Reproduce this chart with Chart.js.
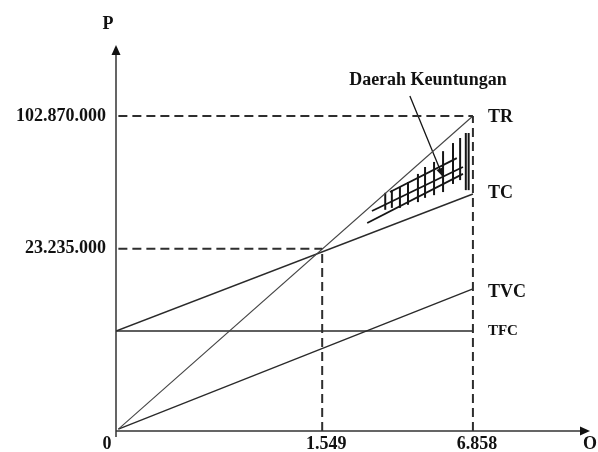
<!DOCTYPE html>
<html>
<head>
<meta charset="utf-8">
<script src="https://cdn.jsdelivr.net/npm/chart.js@4/dist/chart.umd.min.js"></script>
<style>
    html, body { margin: 0; padding: 0; background: #ffffff; }
    #wrap { width: 598px; height: 452px; }
</style>
</head>
<body>
<div id="wrap"><canvas id="bepChart" width="598" height="452"></canvas></div>
<script>
// schematic diagram (not to scale): both axes run 0..10
const qLabels = ['0', '1.549', '6.858'];
const qPos = [0, 4.35, 7.53];
const pLabels = ['23.235.000', '102.870.000'];
const pPos = [4.72, 8.16];

const lineNames = ['TR', 'TC', 'TVC', 'TFC'];
const lineStartX = [0.05, 0, 0.05, 0];
const lineStartY = [0.05, 2.59, 0.05, 2.59];
const lineEndX = [7.53, 7.53, 7.53, 7.53];
const lineEndY = [8.16, 6.14, 3.68, 2.59];

// hatched profit area
const hatchX = [5.68, 5.82, 5.99, 6.16, 6.37, 6.52, 6.71, 6.90, 7.11, 7.26, 7.38, 7.44];
const hatchTop = [6.17, 6.24, 6.32, 6.45, 6.66, 6.84, 6.97, 7.25, 7.46, 7.59, 7.72, 7.72];
const hatchBottom = [5.73, 5.78, 5.78, 5.86, 5.93, 6.04, 6.11, 6.19, 6.40, 6.50, 6.24, 6.24];
const slantX1 = [5.78, 5.40, 5.30];
const slantY1 = [6.19, 5.70, 5.39];
const slantX2 = [7.19, 7.32, 7.32];
const slantY2 = [7.07, 6.84, 6.66];

const profitLabel = 'Daerah Keuntungan';
const profitLabelPos = [6.58, 9.09];
const profitArrow = [[6.20, 8.68], [6.90, 6.58]];

const serif = '"Liberation Serif", "Times New Roman", serif';
const ink = '#151515';

const datasets = [];

function seg(points, opts) {
    datasets.push(Object.assign({
        data: points.map(p => ({ x: p[0], y: p[1] })),
        showLine: true,
        borderColor: '#333333',
        borderWidth: 1.3,
        pointRadius: 0,
        fill: false,
    }, opts || {}));
}

// guide lines
const dash = { borderDash: [9, 5], borderWidth: 2, borderColor: '#2e2e2e' };
seg([[0.05, pPos[1]], [qPos[2], pPos[1]]], dash);
seg([[qPos[2], 0], [qPos[2], pPos[1]]], dash);
seg([[0.05, pPos[0]], [qPos[1], pPos[0]]], dash);
seg([[qPos[1], 0], [qPos[1], pPos[0]]], dash);

// TR, TC, TVC, TFC
lineNames.forEach((name, i) => {
    seg([[lineStartX[i], lineStartY[i]], [lineEndX[i], lineEndY[i]]], {
        label: name,
        borderWidth: name === 'TR' ? 1.1 : 1.4,
        borderColor: name === 'TR' ? '#444444' : '#2a2a2a',
    });
});

// hatching
hatchX.forEach((x, i) => {
    seg([[x, hatchBottom[i]], [x, hatchTop[i]]], { borderColor: ink, borderWidth: 2 });
});
slantX1.forEach((x, i) => {
    seg([[x, slantY1[i]], [slantX2[i], slantY2[i]]], { borderColor: ink, borderWidth: 1.8 });
});

// arrow to the profit area
seg(profitArrow, { borderColor: ink, borderWidth: 1.3, label: 'arrow' });

function arrowHead(ctx, x1, y1, x2, y2, len, half) {
    const a = Math.atan2(y2 - y1, x2 - x1);
    ctx.beginPath();
    ctx.moveTo(x2, y2);
    ctx.lineTo(x2 - len * Math.cos(a) + half * Math.sin(a), y2 - len * Math.sin(a) - half * Math.cos(a));
    ctx.lineTo(x2 - len * Math.cos(a) - half * Math.sin(a), y2 - len * Math.sin(a) + half * Math.cos(a));
    ctx.closePath();
    ctx.fill();
}

const diagramPlugin = {
    id: 'diagram',
    afterDatasetsDraw(chart) {
        const ctx = chart.ctx;
        const xs = chart.scales.x;
        const ys = chart.scales.y;
        const x0 = xs.getPixelForValue(0);
        const y0 = ys.getPixelForValue(0);
        const xEnd = xs.getPixelForValue(10);
        const yEnd = ys.getPixelForValue(10);

        ctx.save();
        // axes with arrows
        ctx.strokeStyle = '#333333';
        ctx.fillStyle = '#111111';
        ctx.lineWidth = 1.5;
        ctx.beginPath();
        ctx.moveTo(x0, y0 + 6);
        ctx.lineTo(x0, yEnd + 8);
        ctx.moveTo(x0, y0);
        ctx.lineTo(xEnd - 8, y0);
        ctx.stroke();
        arrowHead(ctx, x0, y0, x0, yEnd, 10, 4.5);
        arrowHead(ctx, x0, y0, xEnd, y0, 10, 4.5);

        ctx.fillStyle = '#111111';
        ctx.font = 'bold 18px ' + serif;
        ctx.textBaseline = 'middle';

        // axis names
        ctx.textAlign = 'center';
        ctx.fillText('P', x0 - 8, yEnd - 21);
        ctx.fillText('O', xEnd, y0 + 13);

        // x tick labels
        qLabels.forEach((lab, i) => {
            const off = i === 0 ? -9 : 4;
            ctx.fillText(lab, xs.getPixelForValue(qPos[i]) + off, y0 + 13);
        });

        // y tick labels
        ctx.textAlign = 'right';
        pLabels.forEach((lab, i) => {
            ctx.fillText(lab, x0 - 10, ys.getPixelForValue(pPos[i]));
        });

        // line names
        ctx.textAlign = 'left';
        const nameDy = [1, -1, 3, 0];
        lineNames.forEach((name, i) => {
            ctx.font = (name === 'TFC' ? 'bold 15px ' : 'bold 18px ') + serif;
            ctx.fillText(name, xs.getPixelForValue(lineEndX[i]) + 15, ys.getPixelForValue(lineEndY[i]) + nameDy[i]);
        });

        // profit label and arrow head
        ctx.font = 'bold 18px ' + serif;
        ctx.textAlign = 'center';
        ctx.fillText(profitLabel, xs.getPixelForValue(profitLabelPos[0]), ys.getPixelForValue(profitLabelPos[1]));
        ctx.fillStyle = ink;
        arrowHead(ctx,
            xs.getPixelForValue(profitArrow[0][0]), ys.getPixelForValue(profitArrow[0][1]),
            xs.getPixelForValue(profitArrow[1][0]), ys.getPixelForValue(profitArrow[1][1]), 9, 3.5);
        ctx.restore();
    }
};

new Chart(document.getElementById('bepChart').getContext('2d'), {
    type: 'scatter',
    data: { datasets: datasets },
    options: {
        responsive: false,
        animation: false,
        layout: { padding: { left: 116, right: 8, top: 45, bottom: 21 } },
        scales: {
            x: { type: 'linear', min: 0, max: 10, display: false },
            y: { type: 'linear', min: 0, max: 10, display: false },
        },
        plugins: {
            legend: { display: false },
            tooltip: { enabled: false },
        },
    },
    plugins: [diagramPlugin],
});
</script>
</body>
</html>
